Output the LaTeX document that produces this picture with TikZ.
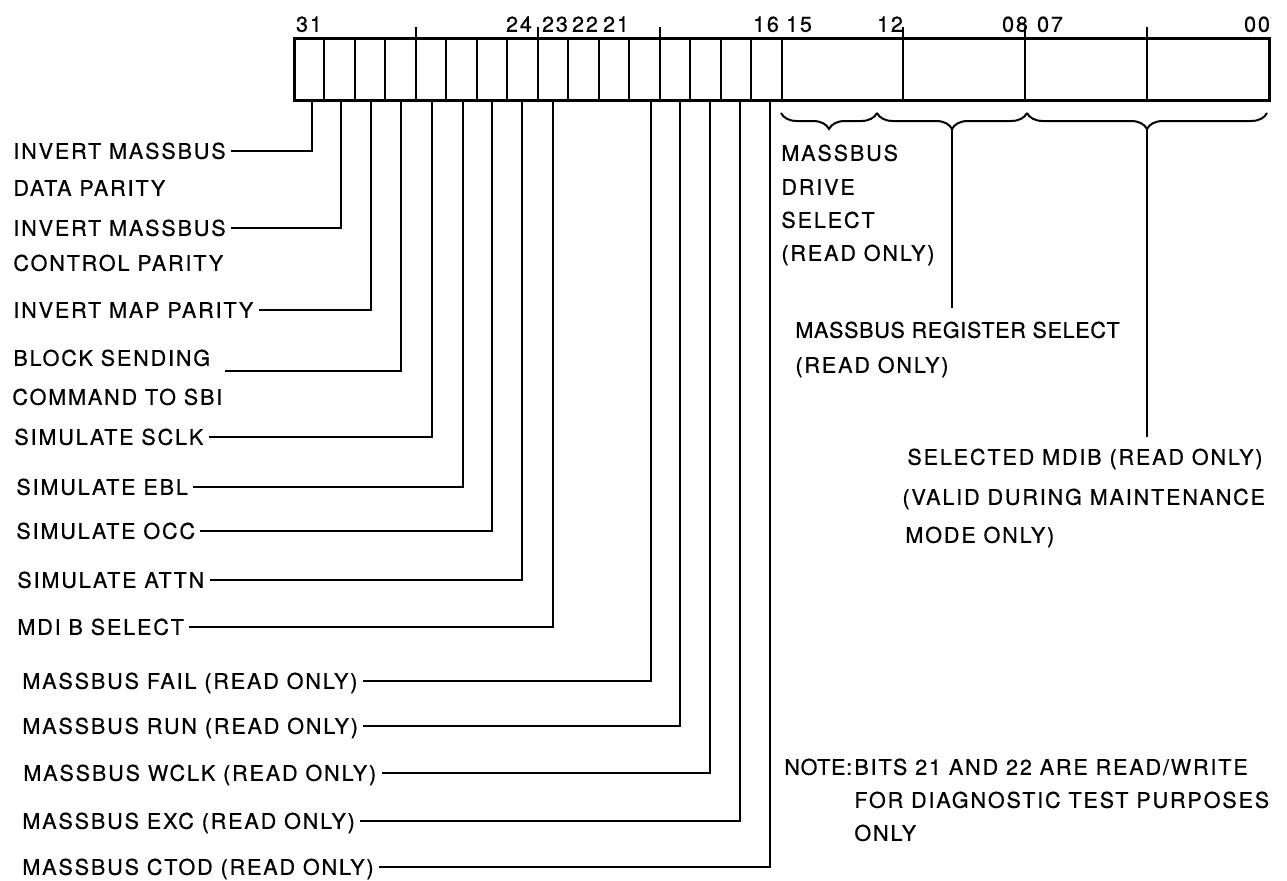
\documentclass[tikz,border=0pt]{standalone}
\usepackage{fontspec}
\setmainfont{TeX Gyre Heros}[LetterSpace=8.5,FakeBold=0.6]
\usepackage{tikz}
\usetikzlibrary{decorations.pathreplacing}

\begin{document}
\begin{tikzpicture}[x=0.5pt,y=-0.5pt,
    lbl/.style={anchor=west,inner xsep=2.5pt,inner ysep=0pt,text height=7.8pt,text depth=0pt,
      font=\fontsize{10.8}{13}\selectfont},
    tight/.style={font=\fontsize{10.8}{13}\selectfont\addfontfeature{LetterSpace=3}},
    num/.style={inner sep=0pt,text height=7.8pt,text depth=0pt,font=\fontsize{10.8}{13}\selectfont},
    lead/.style={line width=1pt},
    brc/.style={decorate,decoration={brace,mirror,amplitude=8pt},line width=1pt}]
  \useasboundingbox (0,0) rectangle (1287,880);

  % register, bit 31 on the left
  \foreach \k in {1,...,16,20,24,28}
    \draw[line width=1pt] ({294+\k*30.47},38) -- ({294+\k*30.47},100);
  \foreach \k in {4,8,12,20,24,28}
    \draw[line width=1pt] ({294+\k*30.47},27) -- ({294+\k*30.47},38);
  \draw[line width=1.5pt] (294,38) rectangle (1269,100);

  % bit numbers
  \node[num] (n31) at (309,24) {31};
  \node[num] (n24) at (519,24) {24};
  \node[num] (n23) at (555,24) {23};
  \node[num] (n22) at (585,24) {22};
  \node[num] (n21) at (616,24) {21};
  \node[num] (n16) at (766,24) {16};
  \node[num] (n15) at (799,24) {15};
  \node[num] (n12) at (890,24) {12};
  \node[num] (n08) at (1015,24) {08};
  \node[num] (n07) at (1050,24) {07};
  \node[num] (n00) at (1257,24) {00};

  % bit taps
  \coordinate (b31) at (312,100);
  \coordinate (b30) at (341,100);
  \coordinate (b29) at (371,100);
  \coordinate (b28) at (401,100);
  \coordinate (b27) at (432,100);
  \coordinate (b26) at (463,100);
  \coordinate (b25) at (492,100);
  \coordinate (b24) at (522,100);
  \coordinate (b23) at (553,100);
  \coordinate (b20) at (651,100);
  \coordinate (b19) at (680,100);
  \coordinate (b18) at (710,100);
  \coordinate (b17) at (740,100);
  \coordinate (b16) at (770,100);

  % left hand labels
  \node[lbl] (l31) at (8,151) {INVERT MASSBUS};
  \node[lbl] (l31b) at (8,188) {DATA PARITY};
  \node[lbl] (l30) at (8,228) {INVERT MASSBUS};
  \node[lbl] (l30b) at (8,263) {CONTROL PARITY};
  \node[lbl] (l29) at (8,310) {INVERT MAP PARITY};
  \node[lbl] (l28) at (8,358) {BLOCK SENDING};
  \node[lbl] (l28b) at (7,397) {COMMAND TO SBI};
  \coordinate (e28) at (225,371);
  \node[lbl] (l27) at (9,437) {SIMULATE SCLK};
  \node[lbl] (l26) at (11,487) {SIMULATE EBL};
  \node[lbl] (l25) at (11,531) {SIMULATE OCC};
  \node[lbl] (l24) at (12,580) {SIMULATE ATTN};
  \node[lbl] (l23) at (12,627) {MDI B SELECT};
  \node[lbl] (l20) at (17,681) {MASSBUS FAIL (READ ONLY)};
  \node[lbl] (l19) at (17,726) {MASSBUS RUN (READ ONLY)};
  \node[lbl] (l18) at (18,773) {MASSBUS WCLK (READ ONLY)};
  \node[lbl] (l17) at (17,821) {MASSBUS EXC (READ ONLY)};
  \node[lbl] (l16) at (17,867) {MASSBUS CTOD (READ ONLY)};

  \draw[lead] (b31) |- (l31.east);
  \draw[lead] (b30) |- (l30.east);
  \draw[lead] (b29) |- (l29.east);
  \draw[lead] (b28) |- (e28);
  \draw[lead] (b27) |- (l27.east);
  \draw[lead] (b26) |- (l26.east);
  \draw[lead] (b25) |- (l25.east);
  \draw[lead] (b24) |- (l24.east);
  \draw[lead] (b23) |- (l23.east);
  \draw[lead] (b20) |- (l20.east);
  \draw[lead] (b19) |- (l19.east);
  \draw[lead] (b18) |- (l18.east);
  \draw[lead] (b17) |- (l17.east);
  \draw[lead] (b16) |- (l16.east);

  % fields of the low half
  \draw[brc] (781,113) -- (877,113) coordinate[midway,yshift=-8pt] (t1);
  \draw[brc] (877,113) -- (1027,113) coordinate[midway,yshift=-8pt] (t2);
  \draw[brc] (1027,113) -- (1267,113) coordinate[midway,yshift=-8pt] (t3);

  \node[lbl] (ds1) at (776,153) {MASSBUS};
  \node[lbl] (ds2) at (776,187) {DRIVE};
  \node[lbl] (ds3) at (776,220) {SELECT};
  \node[lbl] (ds4) at (776,253) {(READ ONLY)};

  \node[lbl,tight] (rs1) at (790,330) {MASSBUS REGISTER SELECT};
  \node[lbl] (rs2) at (790,365) {(READ ONLY)};
  \draw[lead] (t2) -- ([yshift=7pt]rs1.north -| t2);

  \node[lbl] (md1) at (902,457) {SELECTED MDIB (READ ONLY)};
  \node[lbl] (md2) at (897,497) {(VALID DURING MAINTENANCE};
  \node[lbl] (md3) at (900,535) {MODE ONLY)};
  \draw[lead] (t3) -- ([yshift=6pt]md1.north -| t3);

  % note
  \node[lbl,tight] (note) at (779,767) {NOTE:};
  \node[lbl] (nt1) at (849,767) {BITS 21 AND 22 ARE READ/WRITE};
  \node[lbl] (nt2) at (849,800) {FOR DIAGNOSTIC TEST PURPOSES};
  \node[lbl] (nt3) at (849,833) {ONLY};
\end{tikzpicture}
\end{document}
